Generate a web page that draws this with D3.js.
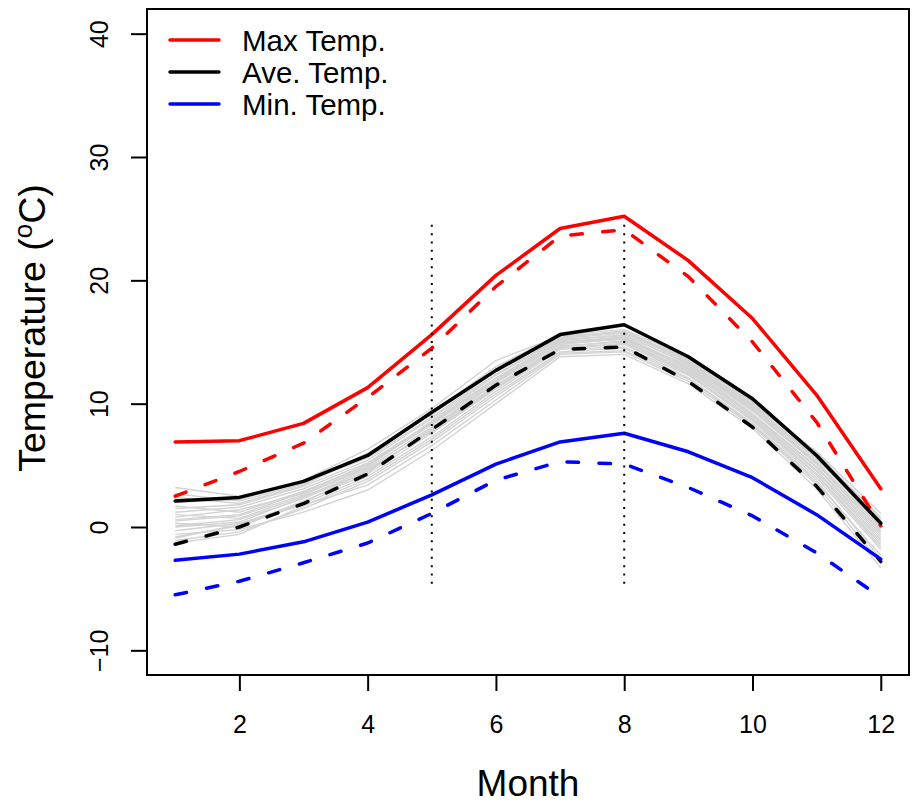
<!DOCTYPE html>
<html>
<head>
<meta charset="utf-8">
<script src="https://cdn.jsdelivr.net/npm/d3@7"></script>
<style>
  body { margin: 0; background: #fff; }
  svg { display: block; font-family: "Liberation Sans", Arial, sans-serif; }
</style>
</head>
<body>
<svg id="chart" width="919" height="806"></svg>
<script>
// months on the x axis
const months = [1, 2, 3, 4, 5, 6, 7, 8, 9, 10, 11, 12];

// solid = recent period, dashed = reference period
const maxSolid = [6.9, 7.0, 8.4, 11.3, 15.6, 20.4, 24.2, 25.2, 21.6, 16.9, 10.7, 3.1];
const maxDashed = [2.5, 4.5, 6.8, 10.5, 14.5, 19.5, 23.6, 24.1, 20.3, 15.0, 8.5, 0.1];
const aveSolid = [2.1, 2.4, 3.7, 5.8, 9.3, 12.7, 15.6, 16.4, 13.8, 10.4, 5.8, 0.3];
const aveDashed = [-1.4, 0.0, 1.9, 4.3, 7.9, 11.5, 14.4, 14.6, 11.8, 8.1, 3.3, -2.8];
const minSolid = [-2.7, -2.2, -1.2, 0.4, 2.6, 5.1, 6.9, 7.6, 6.1, 4.0, 1.0, -2.6];
const minDashed = [-5.5, -4.4, -2.9, -1.3, 1.1, 3.8, 5.3, 5.1, 3.2, 0.9, -2.1, -5.7];

// individual yearly average curves (grey)
const greyYears = [
  [3.2, 2.5, 3.6, 5.6, 8.9, 12.6, 15.4, 15.9, 13.6, 10.1, 5.9, 0.8],
  [0.5, 0.9, 2.6, 4.8, 8.1, 11.8, 14.9, 15.2, 12.9, 9.2, 4.9, -0.6],
  [-0.8, 0.1, 2.1, 4.3, 7.6, 11.2, 14.5, 14.8, 12.4, 8.8, 4.3, -1.4],
  [1.2, 1.6, 3.1, 5.2, 8.5, 12.1, 15.1, 15.6, 13.2, 9.6, 5.3, -0.1],
  [-1.1, -0.4, 1.5, 3.7, 6.9, 10.6, 14.1, 14.3, 12.0, 8.3, 3.6, -2.3],
  [2.4, 1.9, 3.4, 5.9, 9.3, 13.0, 15.6, 16.0, 13.8, 10.2, 6.1, 1.1],
  [0.1, 0.6, 2.3, 4.5, 7.9, 11.5, 14.7, 15.0, 12.6, 9.0, 4.6, -1.0],
  [1.7, 1.2, 2.9, 5.0, 8.3, 11.9, 15.0, 15.4, 13.0, 9.4, 5.1, -0.4],
  [-0.3, 0.3, 1.9, 4.1, 7.3, 11.0, 14.4, 14.6, 12.3, 8.6, 4.0, -1.8],
  [0.8, 1.4, 2.7, 4.9, 8.6, 12.3, 15.2, 15.5, 13.3, 9.7, 5.5, 0.3],
  [-0.6, -0.2, 1.2, 3.0, 6.2, 10.0, 13.8, 14.0, 11.6, 8.0, 3.1, -3.3],
  [2.0, 2.2, 3.8, 6.3, 9.6, 13.5, 15.5, 15.8, 13.5, 9.9, 5.7, 0.5],
  [0.3, 0.0, 2.0, 4.6, 7.8, 11.4, 14.6, 15.1, 12.7, 8.9, 4.5, -1.2],
  [1.0, 0.7, 2.5, 4.4, 8.0, 11.7, 14.8, 15.3, 12.8, 9.1, 4.8, -0.8],
  [-1.3, -0.6, 1.7, 3.9, 7.1, 10.8, 14.2, 14.5, 12.1, 8.4, 3.8, -2.6],
  [1.5, 1.8, 3.3, 5.4, 8.8, 12.4, 15.3, 15.7, 13.4, 9.8, 5.6, 0.0],
  [0.0, 0.4, 2.4, 4.7, 7.7, 11.3, 14.5, 14.9, 12.5, 8.7, 4.2, -1.6],
  [2.7, 2.1, 3.5, 6.0, 9.1, 12.8, 15.4, 15.8, 13.7, 10.0, 6.0, 0.6],
  [-0.9, 0.2, 1.8, 3.4, 6.6, 10.3, 14.0, 14.2, 11.8, 8.2, 3.4, -2.9],
  [0.6, 1.0, 2.8, 5.1, 8.4, 12.0, 15.0, 15.3, 13.1, 9.5, 5.2, -0.3]
];

// dotted reference months and their vertical extent
const markMonths = [5, 8];
const markRange = [-5, 24.5];

const xTicks = [2, 4, 6, 8, 10, 12];
const yTicks = [-10, 0, 10, 20, 30, 40];

const legendLabels = ["Max Temp.", "Ave. Temp.", "Min. Temp."];
const legendColors = ["#ff0000", "#000000", "#0000ff"];

// ---- drawing ----
const svg = d3.select("#chart");
const box = { left: 147, right: 909, top: 9, bottom: 675 };

// R style 4% padding around xlim = c(1,12), ylim = c(-10,40)
const x = d3.scaleLinear().domain([0.56, 12.44]).range([box.left, box.right]);
const y = d3.scaleLinear().domain([-12, 42]).range([box.bottom, box.top]);

const line = d3.line()
  .x((d, i) => x(months[i]))
  .y(d => y(d));

// grey yearly curves
svg.append("g")
  .selectAll("path")
  .data(greyYears)
  .join("path")
  .attr("d", line)
  .attr("fill", "none")
  .attr("stroke", "#d3d3d3")
  .attr("stroke-width", 1.4);

const series = [
  { values: maxSolid, color: "#ff0000", dashed: false },
  { values: maxDashed, color: "#ff0000", dashed: true },
  { values: aveSolid, color: "#000000", dashed: false },
  { values: aveDashed, color: "#000000", dashed: true },
  { values: minSolid, color: "#0000ff", dashed: false },
  { values: minDashed, color: "#0000ff", dashed: true }
];

svg.append("g")
  .selectAll("path")
  .data(series)
  .join("path")
  .attr("d", d => line(d.values))
  .attr("fill", "none")
  .attr("stroke", d => d.color)
  .attr("stroke-width", 3.5)
  .attr("stroke-linecap", "round")
  .attr("stroke-linejoin", "round")
  .attr("stroke-dasharray", d => d.dashed ? "11.5,20.5" : null);

// dotted vertical markers
svg.append("g")
  .selectAll("line")
  .data(markMonths)
  .join("line")
  .attr("x1", d => x(d))
  .attr("x2", d => x(d))
  .attr("y1", y(markRange[1]))
  .attr("y2", y(markRange[0]))
  .attr("stroke", "#000")
  .attr("stroke-width", 2)
  .attr("stroke-dasharray", "2,6.3");

// plot frame
svg.append("rect")
  .attr("x", box.left)
  .attr("y", box.top)
  .attr("width", box.right - box.left)
  .attr("height", box.bottom - box.top)
  .attr("fill", "none")
  .attr("stroke", "#000")
  .attr("stroke-width", 2);

// x axis
const xAxis = svg.append("g")
  .attr("transform", `translate(0,${box.bottom})`)
  .call(d3.axisBottom(x).tickValues(xTicks).tickSize(16).tickPadding(24).tickSizeOuter(0));
xAxis.select(".domain").remove();
xAxis.selectAll(".tick line").attr("stroke-width", 2);
xAxis.selectAll(".tick text")
  .attr("font-size", 25)
  .attr("font-family", "Liberation Sans, Arial, sans-serif")
  .attr("fill", "#000");

// y axis with rotated labels
const yAxis = svg.append("g")
  .attr("transform", `translate(${box.left},0)`)
  .call(d3.axisLeft(y).tickValues(yTicks).tickSize(16).tickSizeOuter(0).tickFormat(d => d < 0 ? "\u2212" + Math.abs(d) : d));
yAxis.select(".domain").remove();
yAxis.selectAll(".tick line").attr("stroke-width", 2);
yAxis.selectAll(".tick text")
  .attr("font-size", 25)
  .attr("font-family", "Liberation Sans, Arial, sans-serif")
  .attr("fill", "#000")
  .attr("x", null)
  .attr("dy", null)
  .attr("text-anchor", "middle")
  .attr("transform", "translate(-39,0) rotate(-90)");

// axis titles
svg.append("text")
  .attr("x", (box.left + box.right) / 2)
  .attr("y", 796)
  .attr("text-anchor", "middle")
  .attr("font-size", 37)
  .text("Month");

const yTitle = svg.append("text")
  .attr("transform", "translate(45,328) rotate(-90)")
  .attr("text-anchor", "middle")
  .attr("font-size", 37.5);
yTitle.append("tspan").text("Temperature (");
yTitle.append("tspan").attr("font-size", 26).attr("dy", -13).text("o");
yTitle.append("tspan").attr("dy", 13).text("C)");

// legend
const legend = svg.append("g")
  .selectAll("g")
  .data(legendLabels)
  .join("g")
  .attr("transform", (d, i) => `translate(170,${40 + i * 32})`);
legend.append("line")
  .attr("x1", 0)
  .attr("x2", 49)
  .attr("stroke", (d, i) => legendColors[i])
  .attr("stroke-width", 3.5)
  .attr("stroke-linecap", "round");
legend.append("text")
  .attr("x", 72)
  .attr("dy", "0.36em")
  .attr("font-size", 29.5)
  .text(d => d);
</script>
</body>
</html>
